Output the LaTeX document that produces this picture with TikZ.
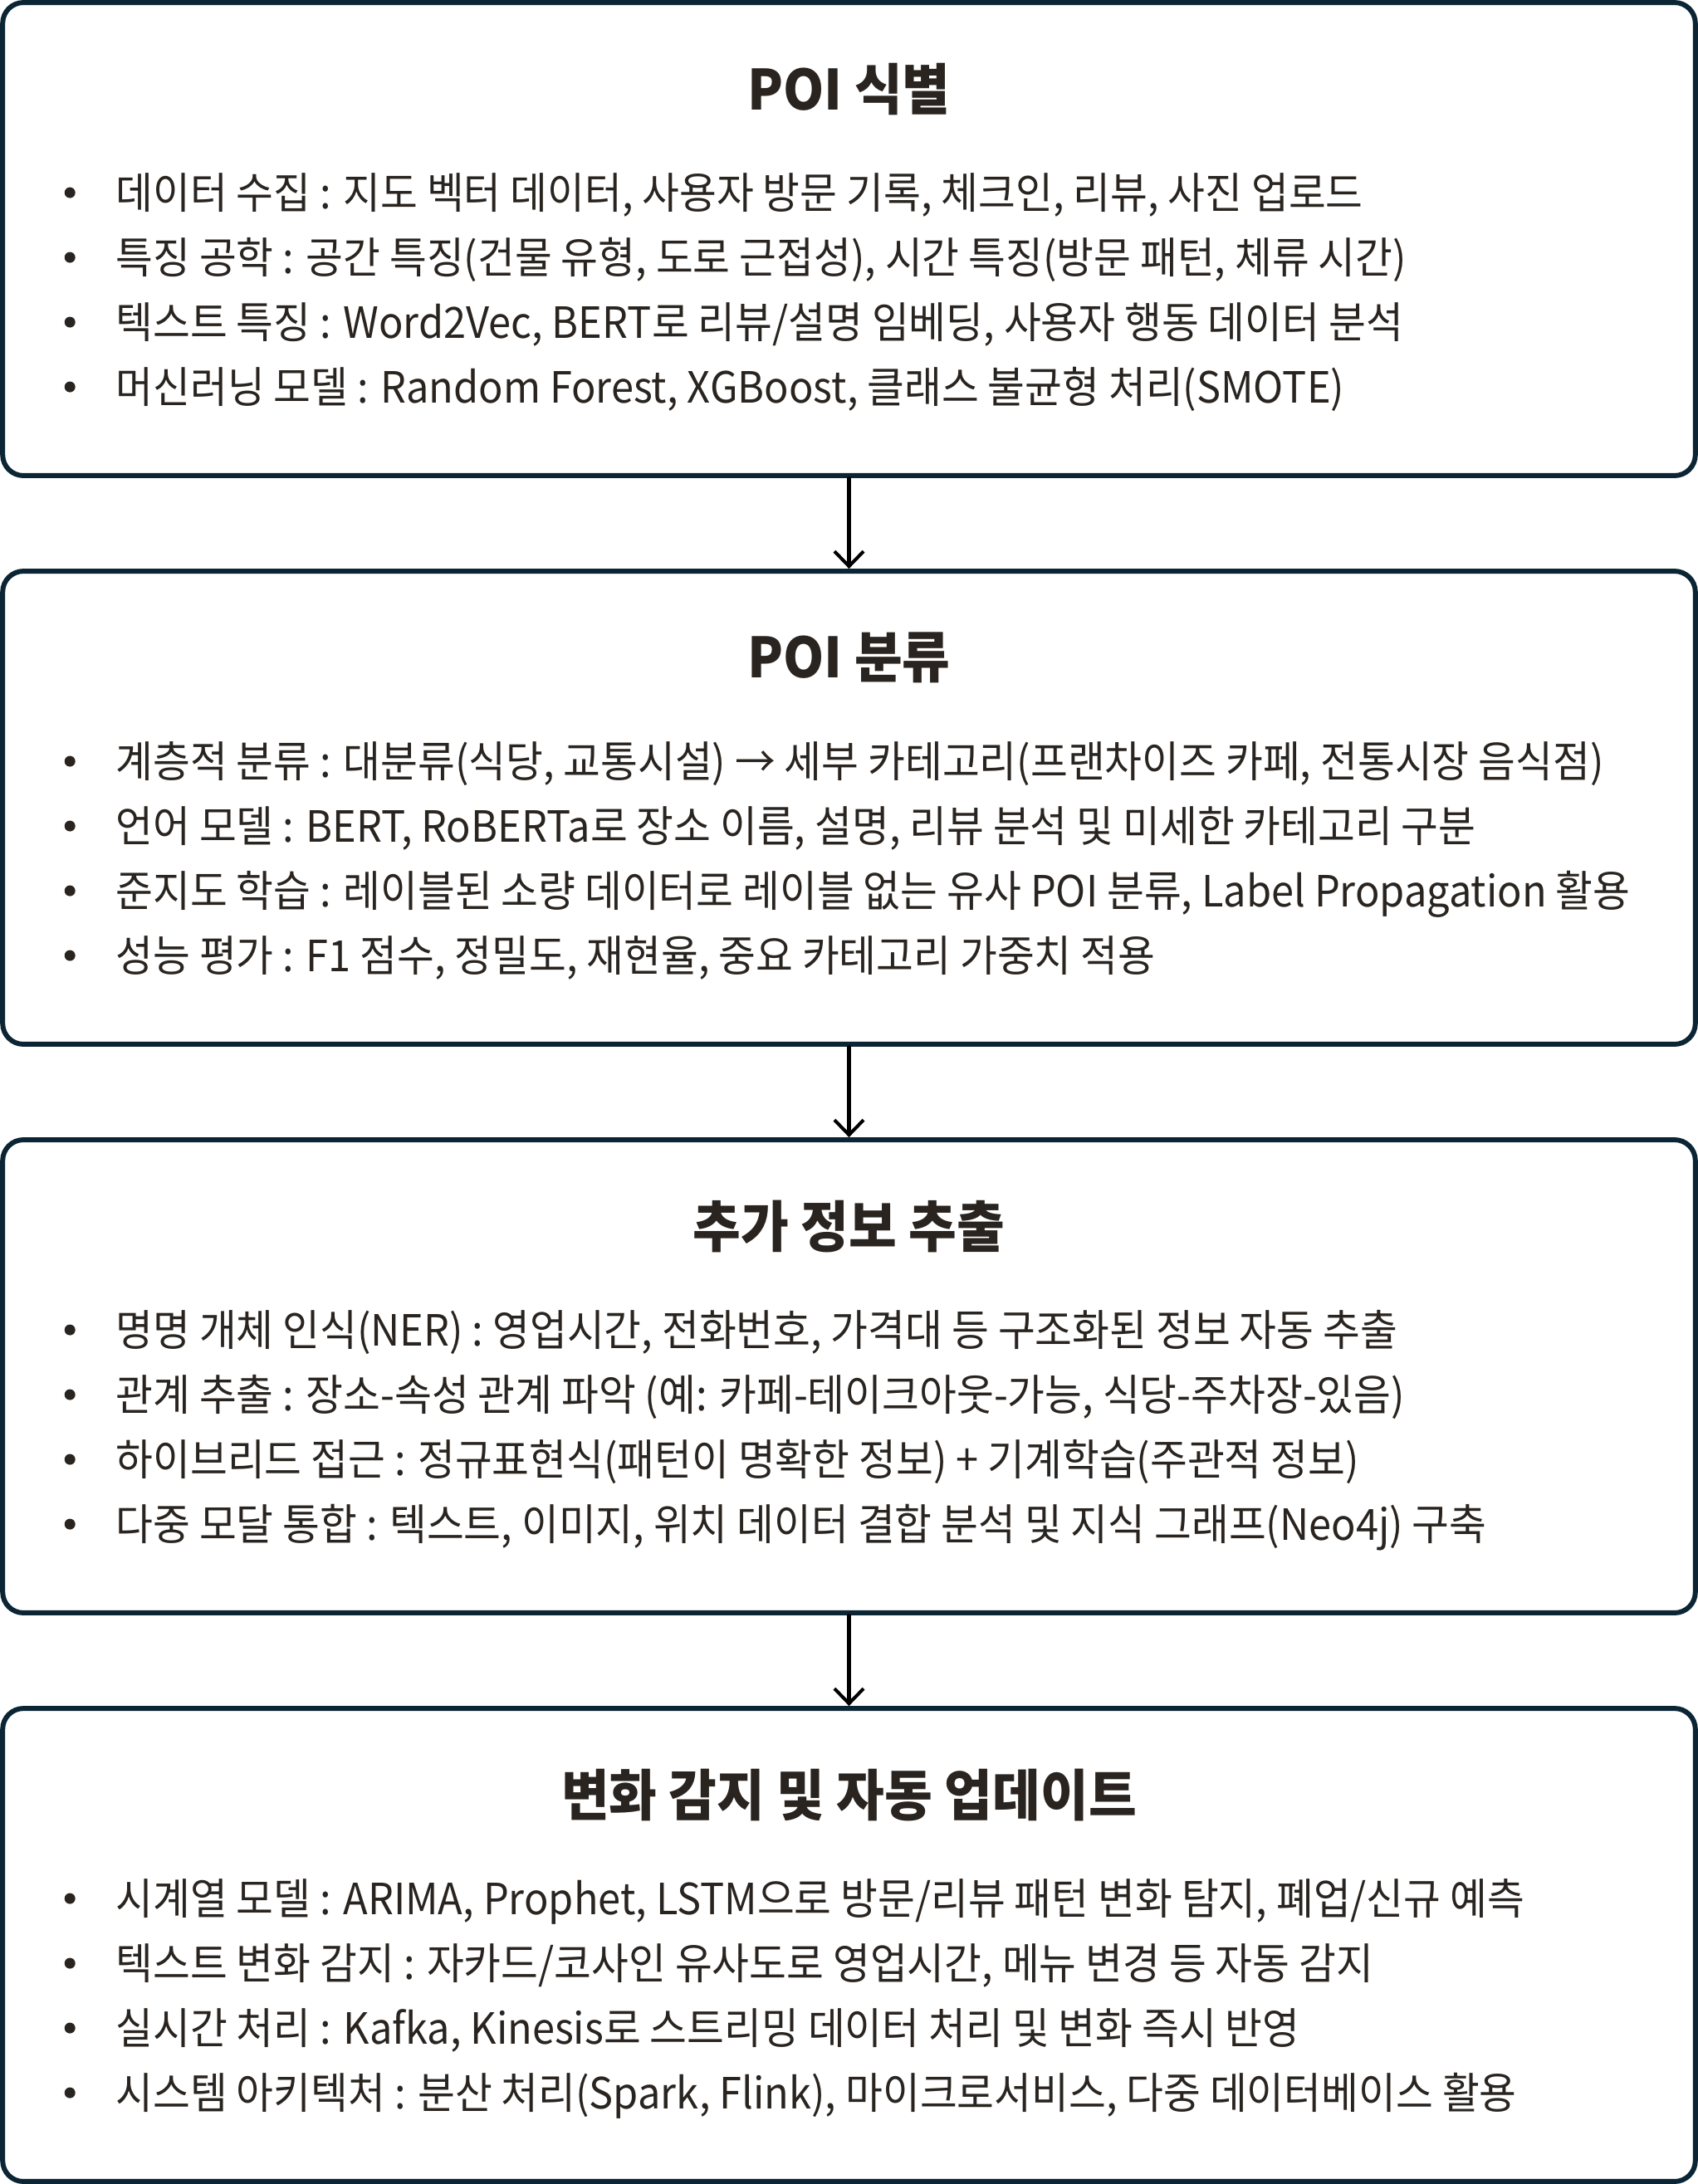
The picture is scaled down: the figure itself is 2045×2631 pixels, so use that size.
\documentclass[tikz,border=0pt]{standalone}
\usepackage{fontspec}
\setmainfont[FakeStretch=0.94]{Noto Sans CJK KR}
\usepackage{xcolor}
\usetikzlibrary{positioning,arrows.meta,calc}
\definecolor{frame}{HTML}{0B2535}
\definecolor{ink}{HTML}{29241F}
\tikzset{
    stage/.style={
        rectangle,
        draw=frame,
        line width=3.4pt,
        rounded corners=0.5cm,
        minimum width=40.78cm,
        minimum height=11.4cm,
        inner sep=0pt
    },
    heading/.style={font=\fontsize{38}{45}\selectfont\bfseries, text=ink, inner sep=0pt},
    item/.style={anchor=base west, font=\fontsize{29.5}{35}\selectfont, text=ink, inner sep=0pt},
    dot/.style={circle, fill=ink, minimum size=0.26cm, inner sep=0pt},
    flow/.style={-{Straight Barb[length=0.36cm,width=0.7cm]}, line width=2.3pt, line cap=round}
}

\begin{document}
\begin{tikzpicture}[x=0.02cm, y=-0.02cm]
    \useasboundingbox[fill=white] (0,0) rectangle (2045,2631);

    % Le quattro fasi
    \node[stage] (s1) at (1022.5, 288) {};
    \node[stage] (s2) at (1022.5, 973) {};
    \node[stage] (s3) at (1022.5, 1658) {};
    \node[stage] (s4) at (1022.5, 2343) {};

    % Titoli
    \node[heading] (h1) at ($(s1.north)+(0,107)$) {POI 식별};
    \node[heading] (h2) at ($(s2.north)+(0,107)$) {POI 분류};
    \node[heading] (h3) at ($(s3.north)+(0,107)$) {추가 정보 추출};
    \node[heading] (h4) at ($(s4.north)+(0,107)$) {변화 감지 및 자동 업데이트};

    % Elenchi puntati
    \foreach \txt [count=\i from 0] in {
        {데이터 수집 : 지도 벡터 데이터, 사용자 방문 기록, 체크인, 리뷰, 사진 업로드},
        {특징 공학 : 공간 특징(건물 유형, 도로 근접성), 시간 특징(방문 패턴, 체류 시간)},
        {텍스트 특징 : Word2Vec, BERT로 리뷰/설명 임베딩, 사용자 행동 데이터 분석},
        {머신러닝 모델 : Random Forest, XGBoost, 클래스 불균형 처리(SMOTE)}}
        {
        \node[dot] (d1\i) at ($(s1.north west)+(84,232+78*\i)$) {};
        \node[item] (l1\i) at ($(s1.north west)+(139,251+78*\i)$) {\txt};
        }
    \foreach \txt [count=\i from 0] in {
        {계층적 분류 : 대분류(식당, 교통시설) → 세부 카테고리(프랜차이즈 카페, 전통시장 음식점)},
        {언어 모델 : BERT, RoBERTa로 장소 이름, 설명, 리뷰 분석 및 미세한 카테고리 구분},
        {준지도 학습 : 레이블된 소량 데이터로 레이블 없는 유사 POI 분류, Label Propagation 활용},
        {성능 평가 : F1 점수, 정밀도, 재현율, 중요 카테고리 가중치 적용}}
        {
        \node[dot] (d2\i) at ($(s2.north west)+(84,232+78*\i)$) {};
        \node[item] (l2\i) at ($(s2.north west)+(139,251+78*\i)$) {\txt};
        }
    \foreach \txt [count=\i from 0] in {
        {명명 개체 인식(NER) : 영업시간, 전화번호, 가격대 등 구조화된 정보 자동 추출},
        {관계 추출 : 장소-속성 관계 파악 (예: 카페-테이크아웃-가능, 식당-주차장-있음)},
        {하이브리드 접근 : 정규표현식(패턴이 명확한 정보) + 기계학습(주관적 정보)},
        {다중 모달 통합 : 텍스트, 이미지, 위치 데이터 결합 분석 및 지식 그래프(Neo4j) 구축}}
        {
        \node[dot] (d3\i) at ($(s3.north west)+(84,232+78*\i)$) {};
        \node[item] (l3\i) at ($(s3.north west)+(139,251+78*\i)$) {\txt};
        }
    \foreach \txt [count=\i from 0] in {
        {시계열 모델 : ARIMA, Prophet, LSTM으로 방문/리뷰 패턴 변화 탐지, 폐업/신규 예측},
        {텍스트 변화 감지 : 자카드/코사인 유사도로 영업시간, 메뉴 변경 등 자동 감지},
        {실시간 처리 : Kafka, Kinesis로 스트리밍 데이터 처리 및 변화 즉시 반영},
        {시스템 아키텍처 : 분산 처리(Spark, Flink), 마이크로서비스, 다중 데이터베이스 활용}}
        {
        \node[dot] (d4\i) at ($(s4.north west)+(84,232+78*\i)$) {};
        \node[item] (l4\i) at ($(s4.north west)+(139,251+78*\i)$) {\txt};
        }

    % Frecce tra le fasi
    \draw[flow] (s1) -- (s2);
    \draw[flow] (s2) -- (s3);
    \draw[flow] (s3) -- (s4);
\end{tikzpicture}
\end{document}
